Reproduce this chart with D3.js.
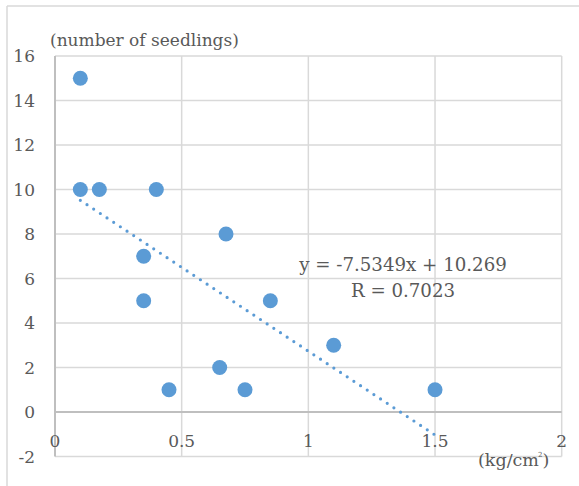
<!DOCTYPE html>
<html>
<head>
<meta charset="utf-8">
<script src="https://cdn.jsdelivr.net/npm/d3@7"></script>
<style>
  body { margin: 0; background: #fff; }
  text { font-family: "DejaVu Serif", serif; fill: #595959; }
</style>
</head>
<body>
<div id="chart"></div>
<script>
// pressure (kg/cm2) vs number of seedlings
var pressure  = [0.1, 0.1, 0.175, 0.4, 0.675, 0.35, 0.35, 0.45, 0.65, 0.75, 0.85, 1.1, 1.5];
var seedlings = [15, 10, 10, 10, 8, 7, 5, 1, 2, 1, 5, 3, 1];
var xTicks = [0, 0.5, 1, 1.5, 2];
var yTicks = [-2, 0, 2, 4, 6, 8, 10, 12, 14, 16];
var trendSlope = -7.5349, trendIntercept = 10.269;
var trendLabel = "y = -7.5349x + 10.269";
var rLabel = "R = 0.7023";

var width = 579, height = 486;

var svg = d3.select("#chart").append("svg")
    .attr("width", width)
    .attr("height", height);

// chart border (only top/left visible in the crop)
svg.append("line").attr("x1", 7).attr("x2", width).attr("y1", 6).attr("y2", 6)
    .attr("stroke", "#d9d9d9").attr("stroke-width", 1.5);
svg.append("line").attr("x1", 7).attr("x2", 7).attr("y1", 6).attr("y2", height)
    .attr("stroke", "#d9d9d9").attr("stroke-width", 1.5);

var x = d3.scaleLinear().domain([0, 2]).range([55, 561.7]);
var y = d3.scaleLinear().domain([-2, 16]).range([456.5, 56]);

var grid = svg.append("g");
grid.selectAll(".hg").data(yTicks).enter().append("line")
    .attr("x1", x(0)).attr("x2", x(2))
    .attr("y1", function (d) { return y(d); })
    .attr("y2", function (d) { return y(d); })
    .attr("stroke", "#d9d9d9").attr("stroke-width", 1.5);
grid.selectAll(".vg").data(xTicks.slice(1)).enter().append("line")
    .attr("x1", function (d) { return x(d); })
    .attr("x2", function (d) { return x(d); })
    .attr("y1", y(16)).attr("y2", y(-2))
    .attr("stroke", "#d9d9d9").attr("stroke-width", 1.5);

// axes lines
svg.append("line").attr("x1", x(0)).attr("x2", x(2)).attr("y1", y(0)).attr("y2", y(0))
    .attr("stroke", "#bfbfbf").attr("stroke-width", 1.8);
svg.append("line").attr("x1", x(0)).attr("x2", x(0)).attr("y1", y(16)).attr("y2", y(-2))
    .attr("stroke", "#bfbfbf").attr("stroke-width", 2);

// tick labels
svg.selectAll(".yl").data(yTicks).enter().append("text")
    .attr("x", 35)
    .attr("y", function (d) { return y(d); })
    .attr("dy", "0.36em")
    .attr("text-anchor", "end")
    .style("font-size", "17px")
    .text(function (d) { return d; });

svg.selectAll(".xl").data(xTicks).enter().append("text")
    .attr("x", function (d) { return x(d); })
    .attr("y", y(0) + 35)
    .attr("text-anchor", "middle")
    .style("font-size", "17px")
    .text(function (d) { return d; });

svg.append("text").attr("x", 50).attr("y", 46)
    .style("font-size", "17px")
    .text("(number of seedlings)");

var unit = svg.append("text").attr("x", 478).attr("y", 466)
    .style("font-size", "17.5px");
unit.append("tspan").text("(kg/cm");
unit.append("tspan").attr("dx", -1).attr("dy", -9).style("font-size", "7px").text("2");
unit.append("tspan").attr("dy", 9).text(")");

// trendline
var tx = [d3.min(pressure), d3.max(pressure)];
svg.append("line")
    .attr("x1", x(tx[0])).attr("y1", y(trendSlope * tx[0] + trendIntercept))
    .attr("x2", x(tx[1])).attr("y2", y(trendSlope * tx[1] + trendIntercept))
    .attr("stroke", "#5b9bd5").attr("stroke-width", 3.2)
    .attr("stroke-linecap", "round")
    .attr("stroke-dasharray", "0 8");

// points
svg.selectAll(".pt").data(pressure).enter().append("circle")
    .attr("cx", function (d) { return x(d); })
    .attr("cy", function (d, i) { return y(seedlings[i]); })
    .attr("r", 7.5)
    .attr("fill", "#5b9bd5");

// equation label
svg.append("text").attr("x", 403).attr("y", 271)
    .attr("text-anchor", "middle").style("font-size", "18.2px")
    .text(trendLabel);
svg.append("text").attr("x", 403).attr("y", 297)
    .attr("text-anchor", "middle").style("font-size", "18.2px")
    .text(rLabel);
</script>
</body>
</html>
